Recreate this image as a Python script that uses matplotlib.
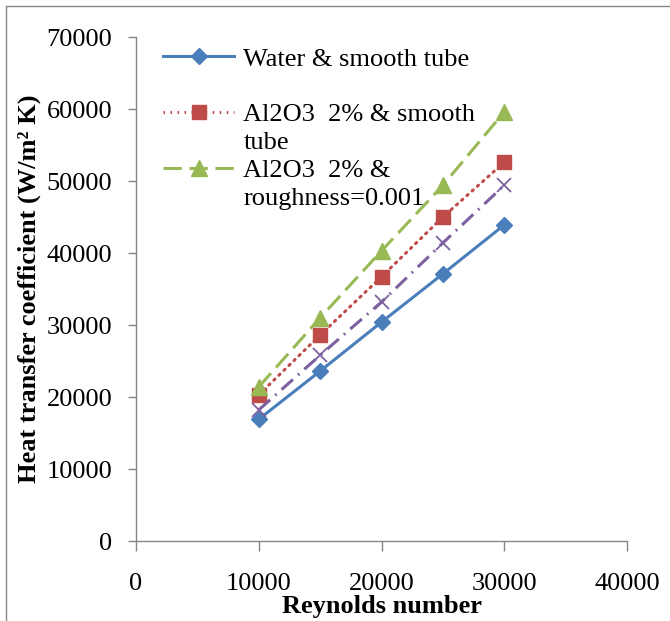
import matplotlib
matplotlib.use("Agg")
import matplotlib.pyplot as plt
from matplotlib.lines import Line2D
from matplotlib.patches import Rectangle

plt.rcParams['font.family'] = ['Liberation Serif', 'DejaVu Serif']

# --- Data ---
reynolds = [10000, 15000, 20000, 25000, 30000]
water_smooth = [16900, 23600, 30400, 37100, 43900]
al2o3_smooth = [20300, 28600, 36700, 45000, 52600]
al2o3_rough = [21400, 31000, 40300, 49400, 59600]
fourth_series = [18200, 25800, 33200, 41400, 49400]

x_ticks = [0, 10000, 20000, 30000, 40000]
y_ticks = [0, 10000, 20000, 30000, 40000, 50000, 60000, 70000]

# --- Colours (Excel 2007 palette) ---
BLUE = '#4A7EBB'
RED = '#BE4B48'
GREEN = '#98B954'
PURPLE = '#7D60A0'
GREY = '#868686'

fig = plt.figure(figsize=(6.70, 6.21), dpi=100)
ax = fig.add_axes([136 / 670, 80 / 621, 491 / 670, 504 / 621])

# figure border (right and bottom edges fall outside the picture)
fig.patches.append(Rectangle((6 / 670, -0.1), 1.2, 1.1 - 6 / 621,
                             transform=fig.transFigure, fill=False,
                             edgecolor=GREY, lw=1.0))

lw = 2.2
ax.plot(reynolds, water_smooth, color=BLUE, lw=lw, ls='-',
        marker='D', ms=8, mfc=BLUE, mec=BLUE)
ax.plot(reynolds, al2o3_smooth, color=RED, lw=lw, ls=(0, (0.5, 1.8)),
        dash_capstyle='round', marker='s', ms=10, mfc=RED, mec=RED)
ax.plot(reynolds, al2o3_rough, color=GREEN, lw=lw, ls=(0, (6, 2.5)),
        marker='^', ms=11, mfc=GREEN, mec=GREEN)
ax.plot(reynolds, fourth_series, color=PURPLE, lw=lw, ls=(0, (5, 2.2, 0.6, 2.2)),
        marker='x', ms=10, mew=1.3, mfc=PURPLE, mec=PURPLE)

ax.set_xlim(0, 40000)
ax.set_ylim(0, 70000)
ax.set_xticks(x_ticks)
ax.set_yticks(y_ticks)

for side in ['top', 'right']:
    ax.spines[side].set_visible(False)
for side in ['left', 'bottom']:
    ax.spines[side].set_color(GREY)
    ax.spines[side].set_linewidth(1.0)

ax.tick_params(axis='both', colors=GREY, labelcolor='black', labelsize=19,
               direction='out', width=1.0)
ax.tick_params(axis='y', length=6, pad=11)
ax.tick_params(axis='x', length=7, pad=16)

ax.set_xlabel('Reynolds number', fontsize=19, fontweight='bold', labelpad=0)
ax.set_ylabel('Heat transfer coefficient (W/m² K)', fontsize=19,
              fontweight='bold', labelpad=4)

# legend: Excel wraps the long labels with the marker on the first line
def handle(color, ls, marker, ms):
    return Line2D([], [], color=color, lw=lw, ls=ls, marker=marker, ms=ms,
                  mfc=color, mec=color)

blank = Line2D([], [], color='none')
handles = [
    handle(BLUE, '-', 'D', 8), blank,
    handle(RED, (0, (0.5, 1.8)), 's', 10), blank,
    handle(GREEN, (0, (6, 2.5)), '^', 11), blank,
]
labels = ['Water & smooth tube', ' ',
          'Al2O3  2% & smooth', 'tube',
          'Al2O3  2% &', 'roughness=0.001']
leg = ax.legend(handles, labels, loc='upper left',
                bbox_to_anchor=(0.055, 0.98), frameon=False, fontsize=19,
                handlelength=2.7, handletextpad=0.35, labelspacing=0.17,
                borderpad=0, borderaxespad=0)

fig.savefig('out.png', dpi=100)
